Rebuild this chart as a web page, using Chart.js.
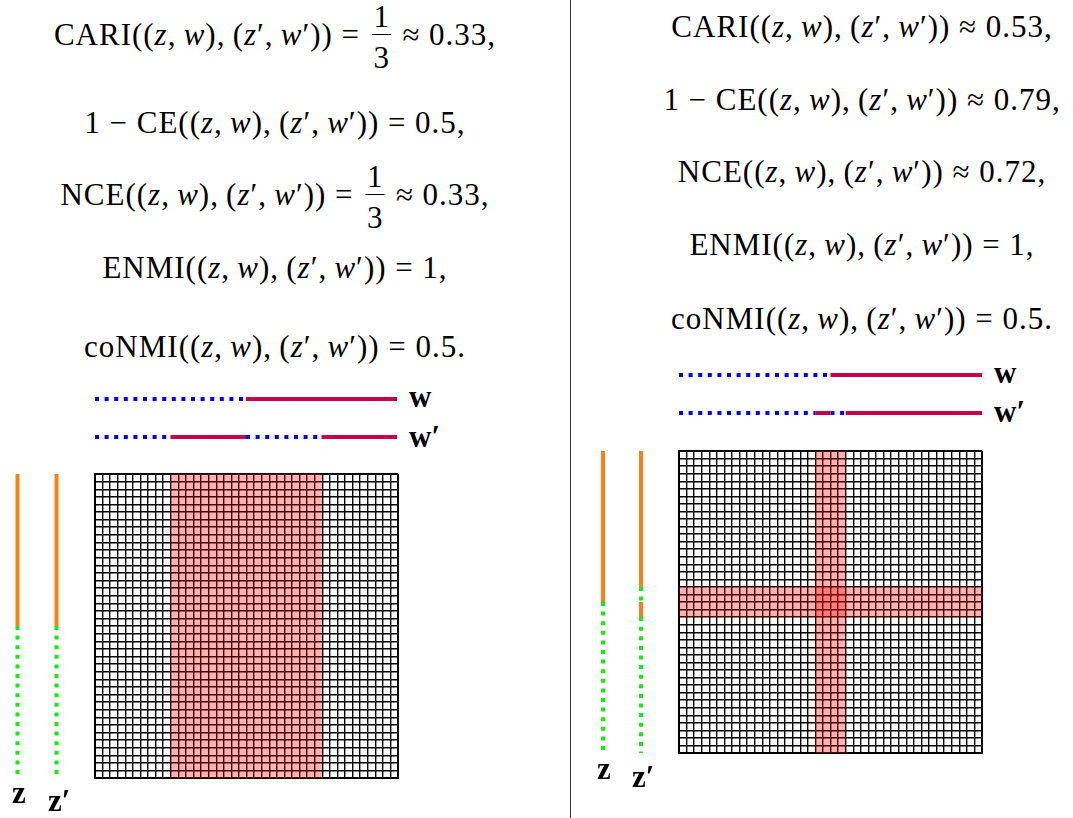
<!DOCTYPE html>
<html><head><meta charset="utf-8">
<script src="https://cdn.jsdelivr.net/npm/chart.js@4.4.0/dist/chart.umd.min.js"></script>
<style>
body{margin:0;width:1073px;height:818px;background:#fff;position:relative;overflow:hidden;font-family:"Liberation Serif",serif;color:#000;}
canvas{position:absolute;}
.eq{position:absolute;white-space:nowrap;font-size:31px;line-height:31px;letter-spacing:1px;transform:translateX(-50%);}
.eq i{font-style:italic;}
.rel{margin:0 0.28em;}
.frac{position:relative;display:inline-block;width:19px;height:20px;margin:0 3px;vertical-align:baseline;}
.frac .num,.frac .den{position:absolute;left:0;right:0;text-align:center;line-height:31px;letter-spacing:0;}
.frac .num{top:-24px;}
.frac .den{top:17px;}
.frac .bar{position:absolute;left:0;right:0;top:9px;height:1px;background:#000;}
.lab{position:absolute;font-weight:bold;font-size:31px;line-height:31px;white-space:nowrap;}
.sep{position:absolute;left:570px;top:0;width:1px;height:818px;background:#333;}
</style></head>
<body>
<div class="sep"></div>
<canvas id="matA" width="307" height="308"></canvas>
<canvas id="matB" width="307" height="306"></canvas>
<canvas id="wA" width="306" height="76"></canvas>
<canvas id="wB" width="307" height="76"></canvas>
<canvas id="zA" width="78" height="308"></canvas>
<canvas id="zB" width="76" height="306"></canvas>
<script>
// ---------- data ----------
const N = 40;                       // number of rows / columns of the co-clustering matrix
// left panel: cluster boundaries (cell index) and cluster label of each segment
const wBreaksA  = [0, 20, 40];          const wLabelsA  = [1, 2];
const wpBreaksA = [0, 10, 20, 30, 40];  const wpLabelsA = [1, 2, 1, 2];
const zBreaksA  = [0, 20, 40];          const zLabelsA  = [1, 2];
const zpBreaksA = [0, 20, 40];          const zpLabelsA = [1, 2];
const shadeColsA = [[10, 30]];          const shadeRowsA = [];
// right panel
const wBreaksB  = [0, 20, 40];          const wLabelsB  = [1, 2];
const wpBreaksB = [0, 18, 20, 22, 40];  const wpLabelsB = [1, 2, 1, 2];
const zBreaksB  = [0, 20, 40];          const zLabelsB  = [1, 2];
const zpBreaksB = [0, 18, 20, 22, 40];  const zpLabelsB = [1, 2, 1, 2];
const shadeColsB = [[18, 22]];          const shadeRowsB = [[18, 22]];
// text
const ARGS = '((<i>z</i>,&#8201;<i>w</i>),&#8201;(<i>z</i>′,&#8201;<i>w</i>′))';
const FRAC = '<span class="frac"><span class="num">1</span><span class="bar"></span><span class="den">3</span></span>';
const R = s => '<span class="rel">' + s + '</span>';
const eqA = [
  'CARI' + ARGS + R('=') + FRAC + R('≈') + '0.33,',
  '1' + R('−') + 'CE' + ARGS + R('=') + '0.5,',
  'NCE' + ARGS + R('=') + FRAC + R('≈') + '0.33,',
  'ENMI' + ARGS + R('=') + '1,',
  'coNMI' + ARGS + R('=') + '0.5.'
];
const eqB = [
  'CARI' + ARGS + R('≈') + '0.53,',
  '1' + R('−') + 'CE' + ARGS + R('≈') + '0.79,',
  'NCE' + ARGS + R('≈') + '0.72,',
  'ENMI' + ARGS + R('=') + '1,',
  'coNMI' + ARGS + R('=') + '0.5.'
];
const baseA = [45, 133, 205, 278, 357];
const baseB = [37, 110, 182, 255, 329];

// ---------- layout ----------
function place(id, l, t) { const c = document.getElementById(id); c.style.left = l + 'px'; c.style.top = t + 'px'; }
place('matA', 93, 472); place('matB', 677, 449);
place('wA', 93, 380); place('wB', 677, 356);
place('zA', -2, 472); place('zB', 584, 449);

function addText(lines, bases, cx) {
  lines.forEach((h, i) => {
    const d = document.createElement('div');
    d.className = 'eq'; d.innerHTML = h;
    d.style.left = cx + 'px'; d.style.top = (bases[i] - 26) + 'px';
    document.body.appendChild(d);
  });
}
addText(eqA, baseA, 275);
addText(eqB, baseB, 862);
function addLab(txt, x, base) {
  const d = document.createElement('div'); d.className = 'lab'; d.innerHTML = txt;
  d.style.left = x + 'px'; d.style.top = (base - 26) + 'px'; document.body.appendChild(d);
}
addLab('w', 409, 407); addLab('w′', 409, 447);
addLab('w', 994, 383); addLab('w′', 994, 422);
addLab('z', 12, 803); addLab('z′', 48, 811);
addLab('z', 597, 779); addLab('z′', 632, 787);

// ---------- charts ----------
const BLUE = '#0000ff', RED = '#c8004a', ORANGE = '#ff8010', GREEN = '#11ee11';
const common = { responsive: false, animation: false, events: [],
  plugins: { legend: { display: false }, tooltip: { enabled: false } } };

function seg(points, dotted, solidColor, dotColor) {
  return { data: points, borderColor: dotted ? dotColor : solidColor, borderWidth: 4,
    borderDash: dotted ? [4, 5.6] : [], borderCapStyle: 'butt', pointRadius: 0, fill: false, tension: 0 };
}

function hLines(id, rows) {
  const datasets = [];
  rows.forEach(([br, lab], r) => lab.forEach((l, i) =>
    datasets.push(seg([{ x: br[i], y: r }, { x: br[i + 1], y: r }], l === 1, RED, BLUE))));
  new Chart(document.getElementById(id), { type: 'line', data: { datasets }, options: { ...common,
    layout: { padding: { left: 2, right: 2, top: 0, bottom: 0 } },
    scales: { x: { type: 'linear', min: 0, max: N, display: false },
              y: { type: 'linear', min: -0.5, max: 1.5, reverse: true, display: false } } } });
}
function vLines(id, cols) {
  const datasets = [];
  cols.forEach(([br, lab], c) => lab.forEach((l, i) =>
    datasets.push(seg([{ x: c, y: br[i] }, { x: c, y: br[i + 1] }], l === 2, ORANGE, GREEN))));
  new Chart(document.getElementById(id), { type: 'line', data: { datasets }, options: { ...common,
    layout: { padding: { left: 0, right: 0, top: 2, bottom: 2 } },
    scales: { x: { type: 'linear', min: -0.5, max: 1.5, display: false },
              y: { type: 'linear', min: 0, max: N, reverse: true, display: false } } } });
}
function matrix(id, cols, rows) {
  const datasets = [];
  const rect = (x0, x1, y0, y1) => ({ data: [{ x: x0, y: y0 }, { x: x1, y: y0 }, { x: x1, y: y1 }, { x: x0, y: y1 }, { x: x0, y: y0 }],
    fill: 'shape', backgroundColor: 'rgba(245,0,0,0.3)', borderWidth: 0, borderColor: 'rgba(0,0,0,0)', pointRadius: 0, tension: 0 });
  cols.forEach(([a, b]) => datasets.push(rect(a, b, 0, N)));
  rows.forEach(([a, b]) => datasets.push(rect(0, N, a, b)));
  const axis = (rev) => ({ type: 'linear', min: 0, max: N, reverse: rev,
    ticks: { display: false, stepSize: 1, maxTicksLimit: 1000 },
    grid: { color: '#000', drawTicks: false,
      lineWidth: c => (c.tick && (c.tick.value === 0 || c.tick.value === N)) ? 2 : 1.4 },
    border: { display: true, color: '#000', width: 2 } });
  new Chart(document.getElementById(id), { type: 'line', data: { datasets }, options: { ...common,
    layout: { padding: 2 }, scales: { x: axis(false), y: axis(true) } } });
}

hLines('wA', [[wBreaksA, wLabelsA], [wpBreaksA, wpLabelsA]]);
hLines('wB', [[wBreaksB, wLabelsB], [wpBreaksB, wpLabelsB]]);
vLines('zA', [[zBreaksA, zLabelsA], [zpBreaksA, zpLabelsA]]);
vLines('zB', [[zBreaksB, zLabelsB], [zpBreaksB, zpLabelsB]]);
matrix('matA', shadeColsA, shadeRowsA);
matrix('matB', shadeColsB, shadeRowsB);
</script>
</body></html>
